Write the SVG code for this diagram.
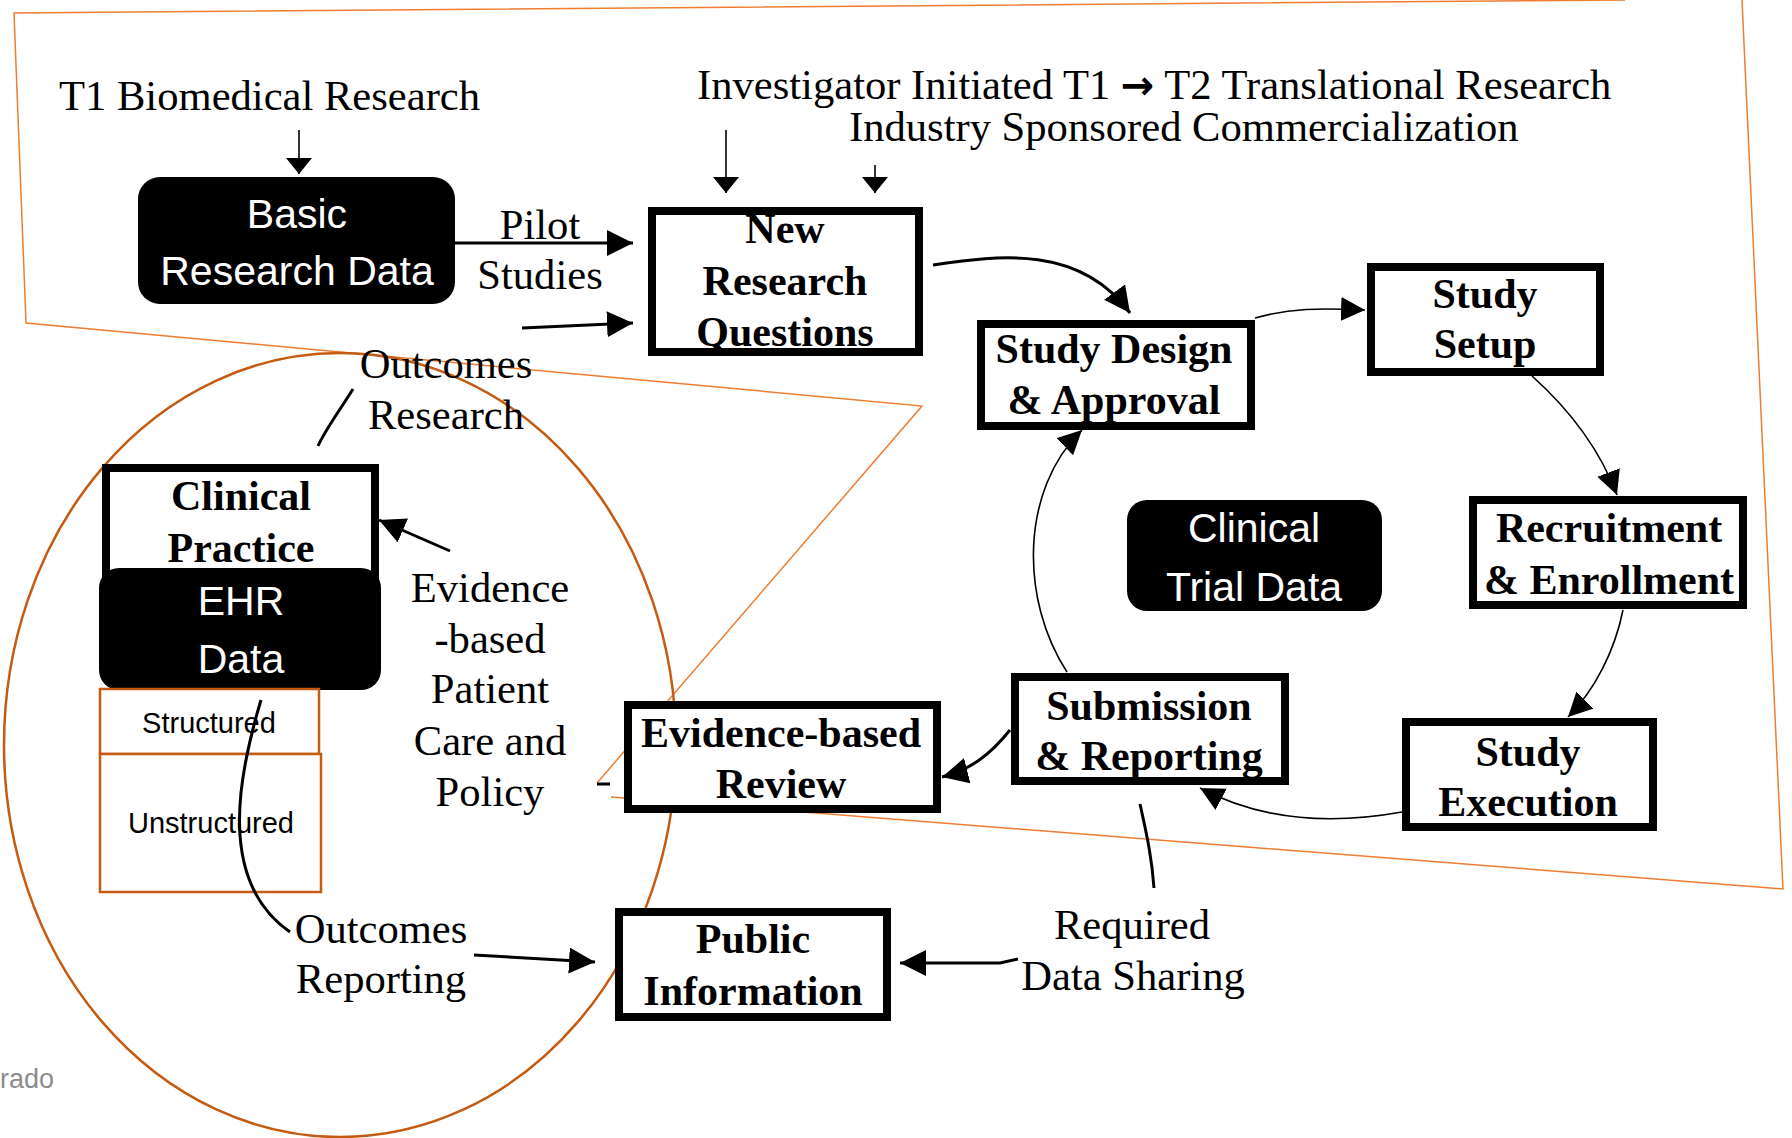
<svg xmlns="http://www.w3.org/2000/svg" width="1792" height="1138" viewBox="0 0 1792 1138">
<style>
.box{fill:#fff;stroke:#000;stroke-width:8}
.dark{fill:#000;stroke:none}
.bt{font-family:"Liberation Serif","Times New Roman",serif;font-weight:bold;font-size:42px;text-anchor:middle;fill:#000}
.lt{font-family:"Liberation Serif","Times New Roman",serif;font-size:42.6px;fill:#000}
.wt{font-family:"Liberation Sans",Arial,sans-serif;font-size:41px;text-anchor:middle;fill:#fff}
.st{font-family:"Liberation Sans",Arial,sans-serif;font-size:29px;text-anchor:middle;fill:#000}
.c{fill:none;stroke:#000;stroke-width:1.6}
.c2{fill:none;stroke:#000;stroke-width:3}
</style>
<defs>
<marker id="ah" markerUnits="userSpaceOnUse" markerWidth="28" markerHeight="28" refX="26" refY="13" orient="auto"><path d="M0,0 L26,13 L0,26 z" fill="#000"/></marker>
<marker id="ahs" markerUnits="userSpaceOnUse" markerWidth="28" markerHeight="28" refX="16" refY="13" orient="auto"><path d="M0,0 L16,13 L0,26 z" fill="#000"/></marker>
<marker id="ahc" markerUnits="userSpaceOnUse" markerWidth="28" markerHeight="28" refX="24" refY="12" orient="auto"><path d="M0,0 L24,12 L0,24 z" fill="#000"/></marker>
</defs>
<g id="outline">
<polyline points="611,797 1783,889 1742,0" fill="none" stroke="#ED7D31" stroke-width="1.5"/>
<polyline points="1625,0 14,13 26,323 922,406 597,783" fill="none" stroke="#ED7D31" stroke-width="1.5"/>
</g>
<ellipse id="outcomes-region" cx="340" cy="745" rx="336" ry="392" fill="none" stroke="#C55A11" stroke-width="2.5"/>
<g id="labels">
<text class="lt" x="59" y="110">T1 Biomedical Research</text>
<text class="lt" x="697" y="99">Investigator Initiated T1 <tspan font-family="DejaVu Sans" font-weight="bold" font-size="40">→</tspan> T2 Translational Research</text>
<text class="lt" x="849" y="141">Industry Sponsored Commercialization</text>
<text class="lt" x="540" y="239" text-anchor="middle">Pilot</text>
<text class="lt" x="540" y="289" text-anchor="middle">Studies</text>
<text class="lt" x="446" y="378" text-anchor="middle">Outcomes</text>
<text class="lt" x="446" y="429" text-anchor="middle">Research</text>
<text class="lt" x="490" y="602" text-anchor="middle">Evidence</text>
<text class="lt" x="490" y="653" text-anchor="middle">-based</text>
<text class="lt" x="490" y="703" text-anchor="middle">Patient</text>
<text class="lt" x="490" y="755" text-anchor="middle">Care and</text>
<text class="lt" x="490" y="806" text-anchor="middle">Policy</text>
<text class="lt" x="381" y="943" text-anchor="middle">Outcomes</text>
<text class="lt" x="381" y="993" text-anchor="middle">Reporting</text>
<text class="lt" x="1132" y="939" text-anchor="middle">Required</text>
<text class="lt" x="1133" y="990" text-anchor="middle">Data Sharing</text>
<text x="0" y="1088" font-family="Liberation Sans,Arial,sans-serif" font-size="27" fill="#8c8c8c">rado</text>
</g>
<g id="basic-research-data">
<rect class="dark" x="138" y="177" width="317" height="127" rx="22"/>
<text class="wt" x="297" y="228">Basic</text>
<text class="wt" x="297" y="285">Research Data</text>
</g>
<g id="new-research-questions">
<rect class="box" x="652" y="211" width="267" height="141"/>
<text class="bt" x="785" y="243">New</text>
<text class="bt" x="785" y="295">Research</text>
<text class="bt" x="785" y="346">Questions</text>
</g>
<g id="study-design">
<rect class="box" x="981" y="324" width="270" height="102"/>
<text class="bt" x="1114" y="363">Study Design</text>
<text class="bt" x="1114" y="414">&amp; Approval</text>
</g>
<g id="study-setup">
<rect class="box" x="1371" y="267" width="229" height="105"/>
<text class="bt" x="1485" y="308">Study</text>
<text class="bt" x="1485" y="358">Setup</text>
</g>
<g id="recruitment">
<rect class="box" x="1473" y="500" width="270" height="105"/>
<text class="bt" x="1609" y="542">Recruitment</text>
<text class="bt" x="1609" y="594">&amp; Enrollment</text>
</g>
<g id="study-execution">
<rect class="box" x="1406" y="722" width="247" height="105"/>
<text class="bt" x="1528" y="766">Study</text>
<text class="bt" x="1528" y="816">Execution</text>
</g>
<g id="submission">
<rect class="box" x="1015" y="677" width="270" height="104"/>
<text class="bt" x="1149" y="720">Submission</text>
<text class="bt" x="1149" y="770">&amp; Reporting</text>
</g>
<g id="evidence-review">
<rect class="box" x="628" y="705" width="309" height="104"/>
<text class="bt" x="781" y="747">Evidence-based</text>
<text class="bt" x="781" y="798">Review</text>
</g>
<g id="public-information">
<rect class="box" x="619" y="912" width="268" height="105"/>
<text class="bt" x="753" y="953">Public</text>
<text class="bt" x="753" y="1005">Information</text>
</g>
<g id="clinical-trial-data">
<rect class="dark" x="1127" y="500" width="255" height="111" rx="20"/>
<text class="wt" x="1254" y="542">Clinical</text>
<text class="wt" x="1254" y="601">Trial Data</text>
</g>
<g id="clinical-practice">
<rect class="box" x="106" y="468" width="269" height="110"/>
<text class="bt" x="241" y="510">Clinical</text>
<text class="bt" x="241" y="562">Practice</text>
</g>
<g id="ehr-data">
<rect class="dark" x="99" y="568" width="282" height="122" rx="20"/>
<text class="wt" x="241" y="615" font-size="40">EHR</text>
<text class="wt" x="241" y="673">Data</text>
</g>
<g id="structured">
<rect x="100" y="689" width="219" height="65" fill="#fff" stroke="#C55A11" stroke-width="2.5"/>
<text class="st" x="209" y="733">Structured</text>
</g>
<g id="unstructured">
<rect x="100" y="754" width="221" height="138" fill="#fff" stroke="#C55A11" stroke-width="2.5"/>
<text class="st" x="211" y="833">Unstructured</text>
</g>
<g id="connectors">
<path class="c" d="M299,130 L299,174" marker-end="url(#ahs)"/>
<path class="c" d="M726,130 L726,193" marker-end="url(#ahs)"/>
<path class="c" d="M875,165 L875,193" marker-end="url(#ahs)"/>
<path class="c2" d="M455,243 L633,243" marker-end="url(#ah)"/>
<path class="c2" d="M522,328 L633,323" marker-end="url(#ah)"/>
<path class="c2" d="M933,265 C1000,255 1080,245 1130,313" marker-end="url(#ah)"/>
<path class="c" d="M1255,318 C1290,308 1320,308 1365,310" marker-end="url(#ahc)"/>
<path class="c" d="M1532,376 C1570,410 1600,450 1617,495" marker-end="url(#ahc)"/>
<path class="c" d="M1623,610 C1615,650 1595,690 1568,717" marker-end="url(#ahc)"/>
<path class="c" d="M1402,812 C1330,825 1260,820 1200,788" marker-end="url(#ahc)"/>
<path class="c" d="M1067,672 C1020,600 1020,490 1082,430" marker-end="url(#ahc)"/>
<path class="c2" d="M1010,730 C990,755 970,770 942,777" marker-end="url(#ah)"/>
<path class="c2" d="M1140,804 C1148,840 1152,860 1154,888"/>
<path class="c2" d="M1018,959 L1000,963 L900,963" marker-end="url(#ah)"/>
<path class="c2" d="M474,955 L595,962" marker-end="url(#ah)"/>
<path class="c2" d="M450,551 L379,520" marker-end="url(#ah)"/>
<path class="c2" d="M353,389 C340,410 325,430 318,446"/>
<path class="c2" d="M261,700 C240,770 215,880 290,932"/>
<path class="c2" d="M597,784 L610,784"/>
</g>
</svg>
